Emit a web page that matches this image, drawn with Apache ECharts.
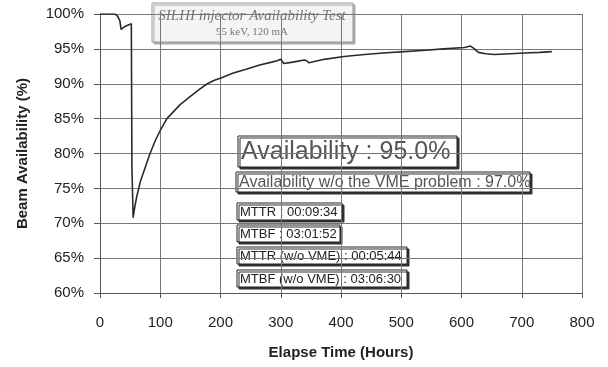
<!DOCTYPE html>
<html>
<head>
<meta charset="utf-8">
<script src="https://cdn.jsdelivr.net/npm/echarts@6/dist/echarts.min.js"></script>
<style>
  html, body { margin: 0; padding: 0; background: #fff; }
  #chart { width: 608px; height: 367px; }
</style>
</head>
<body>
<div id="chart"></div>
<script>
// Elapsed test time (hours) and cumulative beam availability (%)
const hours = [0, 25, 29, 33, 35, 41, 52, 53, 55, 58, 61, 67, 75, 83, 92, 100, 111, 122, 133,
  150, 165, 178, 190, 203, 220, 244, 265, 285, 294, 300, 305, 320, 339, 343, 347, 350, 372,
  405, 439, 470, 505, 540, 570, 605, 615, 620, 628, 640, 655, 680, 705, 730, 750];
const availability = [100, 100, 99.7, 99.0, 97.8, 98.2, 98.6, 78.0, 70.8, 72.5, 73.8, 76.0, 78.0,
  80.0, 81.9, 83.3, 85.0, 86.0, 87.0, 88.2, 89.2, 90.0, 90.5, 90.9, 91.5, 92.1, 92.7, 93.1, 93.3,
  93.5, 92.9, 93.1, 93.4, 93.3, 93.0, 93.1, 93.5, 93.9, 94.2, 94.4, 94.6, 94.8, 95.0, 95.2, 95.4,
  95.1, 94.5, 94.3, 94.2, 94.3, 94.4, 94.5, 94.6];

const xTicks = { min: 0, max: 800, step: 100 };
const yTicks = { min: 60, max: 100, step: 5 };

const chartTitle = 'SILHI injector Availability Test';
const chartSubtitle = '95 keV, 120 mA';
const statLines = [
  'Availability : 95.0%',
  'Availability w/o the VME problem : 97.0%',
  'MTTR : 00:09:34',
  'MTBF : 03:01:52',
  'MTTR (w/o VME) : 00:05:44',
  'MTBF (w/o VME) : 03:06:30'
];

const points = hours.map((h, i) => [h, availability[i]]);

// boxed annotation: rectangle with a hard drop shadow and a single text line
function box(x, y, w, h, text, font, color) {
  return {
    type: 'group',
    x: x, y: y, z: 10,
    children: [
      { type: 'rect', shape: { x: 0, y: 0, width: w, height: h },
        style: { fill: '#fff', stroke: '#222', lineWidth: 1,
                 shadowColor: '#333', shadowOffsetX: 2, shadowOffsetY: 2, shadowBlur: 0 } },
      { type: 'text', x: 3, y: h / 2 + 0.5,
        style: { text: text, font: font, fill: color, textVerticalAlign: 'middle' } }
    ]
  };
}

const chart = echarts.init(document.getElementById('chart'), null, { renderer: 'canvas' });
chart.setOption({
  animation: false,
  backgroundColor: '#fff',
  grid: { left: 100, right: 26, top: 14, bottom: 74, containLabel: false },
  xAxis: {
    type: 'value', min: xTicks.min, max: xTicks.max, interval: xTicks.step,
    name: 'Elapse Time (Hours)', nameLocation: 'middle', nameGap: 52,
    nameTextStyle: { fontFamily: 'Liberation Sans', fontWeight: 'bold', fontSize: 15, color: '#222' },
    axisLine: { show: true, lineStyle: { color: '#555', width: 1 } },
    axisTick: { show: true, length: 5, lineStyle: { color: '#555' } },
    axisLabel: { margin: 22, fontFamily: 'Liberation Sans', fontSize: 15, color: '#222' },
    splitLine: { show: true, lineStyle: { color: '#777', width: 1 } }
  },
  yAxis: {
    type: 'value', min: yTicks.min, max: yTicks.max, interval: yTicks.step,
    name: 'Beam Availability (%)', nameLocation: 'middle', nameGap: 70,
    nameTextStyle: { fontFamily: 'Liberation Sans', fontWeight: 'bold', fontSize: 15, color: '#222' },
    axisLine: { show: true, lineStyle: { color: '#555', width: 1 } },
    axisTick: { show: true, length: 6, lineStyle: { color: '#555' } },
    axisLabel: { margin: 16, fontFamily: 'Liberation Sans', fontSize: 15, color: '#222',
                 formatter: '{value}%' },
    splitLine: { show: true, lineStyle: { color: '#777', width: 1 } }
  },
  series: [{
    type: 'line', data: points, showSymbol: false, symbol: 'none',
    lineStyle: { color: '#2a2a2a', width: 1.6 }, z: 3
  }],
  graphic: [
    {
      type: 'group', x: 152, y: 3, z: 10,
      children: [
        { type: 'rect', shape: { x: 0, y: 0, width: 201, height: 39 },
          style: { fill: '#f4f4f4', stroke: '#999', lineWidth: 1,
                   shadowColor: '#aaa', shadowOffsetX: 2, shadowOffsetY: 2, shadowBlur: 0 } },
        { type: 'text', x: 100, y: 13,
          style: { text: chartTitle, font: 'italic 15px "Liberation Serif"', fill: '#777',
                   textAlign: 'center', textVerticalAlign: 'middle' } },
        { type: 'text', x: 100, y: 29,
          style: { text: chartSubtitle, font: '11px "Liberation Serif"', fill: '#777',
                   textAlign: 'center', textVerticalAlign: 'middle' } }
      ]
    },
    box(238, 136, 219, 31, statLines[0], '25px "Liberation Sans"', '#555'),
    box(236, 172, 294, 20, statLines[1], '16px "Liberation Sans"', '#555'),
    box(237, 203, 105, 17, statLines[2], '13px "Liberation Sans"', '#222'),
    box(237, 225, 103, 17, statLines[3], '13px "Liberation Sans"', '#222'),
    box(237, 247, 170, 17, statLines[4], '13px "Liberation Sans"', '#222'),
    box(237, 270, 170, 17, statLines[5], '13px "Liberation Sans"', '#222')
  ]
});
</script>
</body>
</html>
